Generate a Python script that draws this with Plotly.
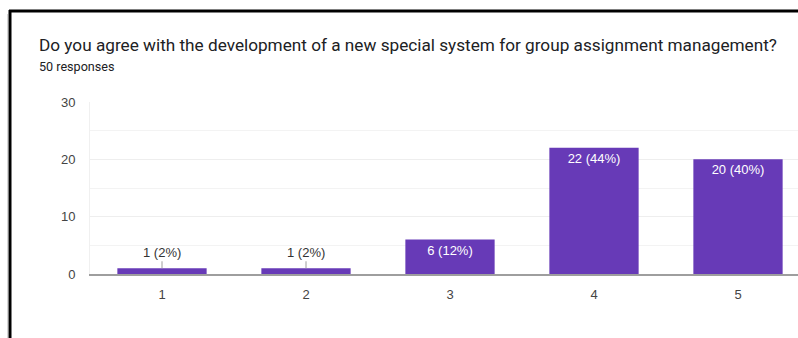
import plotly.graph_objects as go

# Survey answers on a 1-5 scale
categories = ["1", "2", "3", "4", "5"]
counts = [1, 1, 6, 22, 20]
total_responses = 50
y_ticks = [0, 10, 20, 30]

title_text = "Do you agree with the development of a new special system for group assignment management?"
subtitle_text = f"{total_responses} responses"

W, H = 798, 338
ML, MR, MT, MB = 90, 0, 102, 64
plot_w = W - ML - MR
plot_h = H - MT - MB


def px_x(px):
    return (px - ML) / plot_w


def px_y(py):
    return (H - MB - py) / plot_h


labels = [f"{c} ({round(100 * c / total_responses)}%)" for c in counts]
x_pos = [i + 1 for i in range(len(categories))]
small = [c < 3 for c in counts]

bar_color = "#673AB7"

fig = go.Figure()
fig.add_trace(go.Bar(
    x=x_pos,
    y=counts,
    marker=dict(color=bar_color, line=dict(width=0)),
    width=0.62,
    text=["" if s else t for s, t in zip(small, labels)],
    textposition="inside",
    insidetextanchor="end",
    textangle=0,
    textfont=dict(family="Liberation Sans, Arial", size=13, color="white"),
    hoverinfo="skip",
    cliponaxis=False,
))

annotations = []
# Labels for short bars sit above them with a thin leader line
for x, c, t, s in zip(x_pos, counts, labels, small):
    if s:
        annotations.append(dict(
            x=x, y=c, xref="x", yref="y", text=t,
            showarrow=True, arrowhead=0, arrowwidth=1, arrowcolor="#9e9e9e",
            ax=0, ay=-16,
            font=dict(family="Liberation Sans, Arial", size=13, color="#333333"),
        ))

annotations.append(dict(
    x=px_x(37), y=px_y(45), xref="paper", yref="paper",
    xanchor="left", yanchor="middle", showarrow=False,
    text=title_text,
    font=dict(family="Roboto, Arial", size=17.2, color="#202124"),
))
annotations.append(dict(
    x=px_x(37), y=px_y(66), xref="paper", yref="paper",
    xanchor="left", yanchor="middle", showarrow=False,
    text=subtitle_text,
    font=dict(family="Roboto, Arial", size=12.6, color="#202124"),
))

shapes = [
    # frame around the card: top and left edges
    dict(type="line", xref="paper", yref="paper",
         x0=px_x(9), x1=px_x(800), y0=px_y(11), y1=px_y(11),
         line=dict(color="#000000", width=3)),
    dict(type="line", xref="paper", yref="paper",
         x0=px_x(10), x1=px_x(10), y0=px_y(10), y1=px_y(340),
         line=dict(color="#000000", width=3)),
    dict(type="line", xref="paper", yref="paper",
         x0=px_x(7.5), x1=px_x(7.5), y0=px_y(14), y1=px_y(340),
         line=dict(color="#d6d6d6", width=1)),
]

fig.update_layout(
    width=W, height=H,
    margin=dict(l=ML, r=MR, t=MT, b=MB, pad=0),
    paper_bgcolor="white",
    plot_bgcolor="white",
    showlegend=False,
    annotations=annotations,
    shapes=shapes,
    bargap=0.38,
)

fig.update_xaxes(
    range=[0.5, 0.5 + plot_w / 144.0],
    tickvals=x_pos, ticktext=categories,
    showgrid=False, zeroline=False,
    showline=True, linecolor="#9e9e9e", linewidth=2,
    ticks="outside", ticklen=7, tickcolor="rgba(0,0,0,0)",
    tickfont=dict(family="Liberation Sans, Arial", size=13, color="#444444"),
    fixedrange=True,
)
fig.update_yaxes(
    range=[0, 30],
    tickvals=y_ticks,
    showgrid=True, gridcolor="#eeeeee", gridwidth=1,
    minor=dict(dtick=5, tick0=0, showgrid=True, gridcolor="#f3f3f3", gridwidth=1),
    zeroline=False,
    showline=True, linecolor="#f0f0f0", linewidth=1,
    ticks="outside", ticklen=11, tickcolor="rgba(0,0,0,0)",
    tickfont=dict(family="Liberation Sans, Arial", size=13, color="#444444"),
    fixedrange=True,
)

fig.write_html("out.html")
